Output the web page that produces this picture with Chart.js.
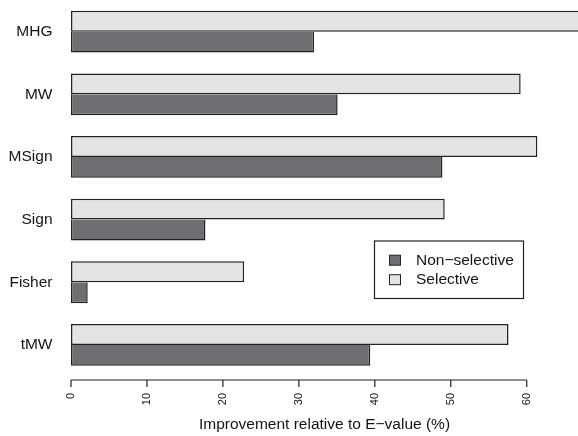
<!DOCTYPE html>
<html>
<head>
<meta charset="utf-8">
<script src="https://cdn.jsdelivr.net/npm/chart.js@4/dist/chart.umd.min.js"></script>
<style>
  html, body { margin: 0; padding: 0; background: #ffffff; }
  #c { display: block; }
</style>
</head>
<body>
<canvas id="c" width="578" height="436"></canvas>
<script>
// Methods, top to bottom
const methods = ['MHG', 'MW', 'MSign', 'Sign', 'Fisher', 'tMW'];
// Improvement relative to E-value (%)
const selective    = [67.5, 59.2, 61.4, 49.2, 22.8, 57.6];
const nonSelective = [32.0, 35.1, 48.9, 17.7, 2.2, 39.4];
const xTicks = [0, 10, 20, 30, 40, 50, 60];
const xTitle = 'Improvement relative to E\u2212value (%)';
const legendOrder = ['Non\u2212selective', 'Selective'];

const FONT = '"Liberation Sans", Arial, Helvetica, sans-serif';
const INK = '#141414';
const EDGE = '#222222';

// Axis line with tick marks spanning the tick range, drawn below the bars
const axisLine = {
  id: 'axisLine',
  afterDraw(chart) {
    const sx = chart.scales.x;
    const ctx = chart.ctx;
    const y = chart.chartArea.bottom + 3.8;
    ctx.save();
    ctx.strokeStyle = EDGE;
    ctx.lineWidth = 1.2;
    ctx.beginPath();
    ctx.moveTo(sx.getPixelForValue(xTicks[0]), y);
    ctx.lineTo(sx.getPixelForValue(xTicks[xTicks.length - 1]), y);
    xTicks.forEach(v => {
      const px = sx.getPixelForValue(v);
      ctx.moveTo(px, y);
      ctx.lineTo(px, y + 7);
    });
    ctx.stroke();
    ctx.restore();
  }
};

// Boxed legend inside the plot
const boxLegend = {
  id: 'boxLegend',
  afterDraw(chart) {
    const ctx = chart.ctx;
    const ca = chart.chartArea;
    const left = ca.left + 303.5, top = ca.top + 240.6;
    const w = 149, h = 57.5;
    ctx.save();
    ctx.fillStyle = '#ffffff';
    ctx.fillRect(left, top, w, h);
    ctx.strokeStyle = EDGE;
    ctx.lineWidth = 1.2;
    ctx.strokeRect(left, top, w, h);
    ctx.font = '15.5px ' + FONT;
    ctx.textBaseline = 'middle';
    ctx.textAlign = 'left';
    legendOrder.forEach((name, i) => {
      const ds = chart.data.datasets.find(d => d.label === name);
      const cy = top + 19.2 + i * 19.5;
      ctx.fillStyle = ds.backgroundColor;
      ctx.fillRect(left + 15, cy - 5, 11, 10);
      ctx.strokeStyle = EDGE;
      ctx.lineWidth = 1;
      ctx.strokeRect(left + 15, cy - 5, 11, 10);
      ctx.fillStyle = INK;
      ctx.fillText(name, left + 41.5, cy + 0.5);
    });
    ctx.restore();
  }
};

new Chart(document.getElementById('c'), {
  type: 'bar',
  data: {
    labels: methods,
    datasets: [
      {
        label: 'Selective',
        data: selective,
        backgroundColor: '#e4e4e5',
        borderColor: EDGE,
        borderWidth: 1.5,
        borderSkipped: false
      },
      {
        label: 'Non\u2212selective',
        data: nonSelective,
        backgroundColor: '#6d6e71',
        borderColor: EDGE,
        borderWidth: 1.5,
        borderSkipped: 'top'
      }
    ]
  },
  options: {
    indexAxis: 'y',
    responsive: false,
    animation: false,
    devicePixelRatio: 1,
    layout: { padding: { top: 0.4, right: 0, bottom: 0, left: 0 } },
    datasets: { bar: { categoryPercentage: 2 / 3, barPercentage: 1 } },
    plugins: {
      legend: { display: false },
      tooltip: { enabled: false },
      title: { display: false }
    },
    scales: {
      x: {
        type: 'linear',
        min: 0,
        max: 66.75,
        afterBuildTicks(scale) {
          scale.ticks = xTicks.map(v => ({ value: v }));
        },
        afterFit(scale) {
          scale.height = 59.8;
          scale.paddingLeft = 0;
          scale.paddingRight = 0;
        },
        grid: { display: false, drawTicks: false },
        border: { display: false },
        ticks: {
          autoSkip: false,
          minRotation: 90,
          maxRotation: 90,
          padding: 16.8,
          color: INK,
          font: { family: FONT, size: 11 }
        },
        title: {
          display: true,
          text: xTitle,
          color: INK,
          font: { family: FONT, size: 15.5 },
          padding: { top: 0, bottom: 2 }
        }
      },
      y: {
        type: 'category',
        offset: true,
        afterFit(scale) {
          scale.width = 71;
          scale.paddingTop = 0;
          scale.paddingBottom = 0;
        },
        grid: { display: false, drawTicks: false },
        border: { display: false },
        ticks: {
          padding: 18.5,
          color: INK,
          font: { family: FONT, size: 15.5 }
        }
      }
    }
  },
  plugins: [axisLine, boxLegend]
});
</script>
</body>
</html>
